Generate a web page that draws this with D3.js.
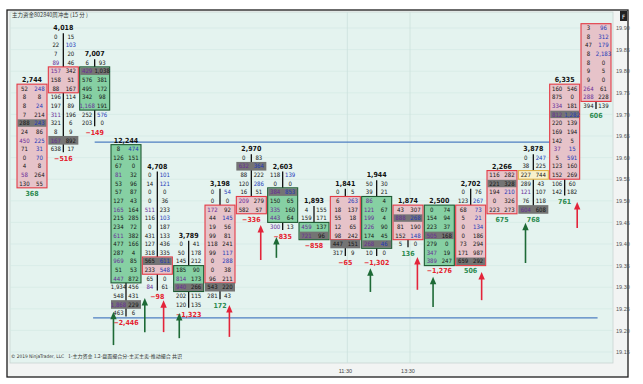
<!DOCTYPE html>
<html>
<head>
<meta charset="utf-8">
<script src="https://cdn.jsdelivr.net/npm/d3@7"></script>
<style>
body { margin: 0; background: #fff; }
svg text { font-family: "Liberation Sans Narrow", "DejaVu Sans Condensed", "Liberation Sans", sans-serif; }
</style>
</head>
<body>
<svg id="chart" width="643" height="384"></svg>
<script>

// footprint bars, one per 15 min slot (index = slot)
var totals = [2744, 4018, 7007, 12244, 4708, 3789, 3198, 2970, 2603, 1893, 1841, 1944, 1874, 2500, 2702, 2266, 3878, 6335, null];
var topPrices = [19.76, 19.88, 19.82, 19.62, 19.56, 19.40, 19.52, 19.60, 19.56, 19.48, 19.52, 19.54, 19.48, 19.48, 19.52, 19.56, 19.60, 19.76, 19.90];
var deltas = [368, -516, -149, -2446, -98, -1323, 172, -336, -835, -858, -65, -1302, 136, -1276, 506, 675, 768, 761, 606];

var bidVols = [
  [52, 8, 8, 7, 288, 24, 450, 71, 0, 4, 58, 130],
  [0, 22, 7, 89, 157, 158, 88, 196, 197, 311, 321, 8, 167, 638],
  [6, 429, 576, 495, 342, 1168, 252, 203],
  [8, 126, 67, 81, 53, 57, 127, 165, 215, 234, 611, 477, 287, 969, 51, 447, 1934, 548, 1868, 463],
  [0, 14, 0, 0, 511, 116, 0, 431, 127, 318, 565, 233, 65, 84],
  [0, 50, 145, 185, 814, 940, 202, 120],
  [0, 0, 172, 44, 19, 99, 118, 99, 0, 0, 96, 543, 281],
  [0, 632, 88, 120, 16, 209, 582],
  [118, 0, 384, 150, 335, 443, 300],
  [4, 159, 459, 721],
  [0, 6, 18, 55, 12, 98, 447, 317],
  [50, 39, 86, 121, 199, 226, 174, 268, 10],
  [43, 888, 81, 152, 5],
  [0, 154, 223, 505, 279, 347, 389],
  [0, 123, 68, 5, 0, 0, 73, 171, 659],
  [116, 221, 194, 0, 223],
  [0, 38, 227, 289, 121, 76, 604],
  [160, 875, 334, 812, 220, 169, 142, 37, 5, 123, 152, 106, 142],
  [3, 8, 47, 8, 8, 9, 9, 264, 288, 394]
];
var askVols = [
  [248, 8, 24, 214, 243, 86, 225, 31, 70, 8, 264, 55],
  [15, 103, 20, 46, 342, 51, 167, 114, 89, 196, 6, 9, 892, 17],
  [93, 1038, 381, 172, 98, 191, 576, 0],
  [474, 151, 0, 32, 96, 87, 43, 164, 285, 72, 382, 166, 4, 85, 53, 872, 456, 431, 229, 6],
  [101, 121, 0, 36, 233, 103, 187, 133, 436, 335, 611, 548, 0, 61],
  [41, 178, 212, 90, 173, 266, 115, 135],
  [54, 0, 92, 145, 56, 81, 241, 117, 288, 38, 211, 220, 43],
  [83, 364, 222, 286, 51, 279, 57],
  [139, 0, 853, 65, 160, 64, 13],
  [155, 171, 137, 96],
  [5, 263, 137, 18, 65, 242, 151, 9],
  [30, 21, 4, 67, 4, 90, 45, 46, 0],
  [307, 268, 190, 148, 0],
  [74, 94, 37, 168, 0, 19, 247],
  [76, 267, 73, 21, 134, 186, 294, 987, 292],
  [282, 328, 210, 326, 273],
  [247, 225, 744, 43, 107, 118, 608],
  [546, 0, 181, 1282, 139, 194, 5, 15, 591, 160, 269, 60, 182],
  [96, 312, 179, 2183, 0, 5, 0, 61, 228, 139]
];

// body rows (first/last row index) and kind, plus the highlighted max volume row
var bodyStart = [0, 4, 1, 0, 10, 3, 2, 5, 2, 2, 1, 2, 0, 0, 2, 0, 2, 0, 0];
var bodyEnd   = [11, 6, 5, 15, 11, 5, 10, 6, 5, 3, 5, 7, 3, 6, 8, 4, 2, 10, 8];
var bodyKind  = ["dn", "dn", "up", "up", "dn", "up", "dn", "dn", "up", "up", "dn", "up", "dn", "up", "dn", "dn", "flat", "dn", "dn"];
var maxRow    = [4, 12, 1, 18, 10, 5, 11, 1, 2, 3, 6, 7, 1, 3, 8, 1, 6, 3, -1];

// signal arrows (slot position, head price, tail price)
var arrowSlot = [2.6, 3.6, 4.2, 4.7, 6.3, 7.3, 7.8, 10.8, 12.3, 12.8, 14.35, 15.75, 17.4];
var arrowHead = [19.243, 19.275, 19.270, 19.240, 19.259, 19.444, 19.416, 19.344, 19.370, 19.324, 19.335, 19.449, 19.497];
var arrowTail = [19.166, 19.196, 19.196, 19.182, 19.185, 19.363, 19.368, 19.289, 19.294, 19.254, 19.270, 19.356, 19.437];
var arrowSide = ["buy", "buy", "sell", "buy", "sell", "sell", "buy", "buy", "sell", "buy", "sell", "buy", "sell"];

// horizontal levels
var levelPrice = [19.636, 19.229];
var levelFrom = [2.0, 1.95];
var levelTo = [16.8, 18.05];

var timeLabels = ["11:30", "13:30"];
var timeSlots = [10, 12];
var priceTicks = d3.range(0, 16).map(function(i) { return +(19.15 + i * 0.05).toFixed(2); });

var tickSize = 0.02;

var svg = d3.select("#chart");
var x = d3.scaleLinear().domain([0, 18]).range([32, 596]);
var y = d3.scaleLinear().domain([19.15, 19.90]).range([352, 28]);
var rowH = y(19.50) - y(19.52);
var halfW = 15;

// frame + plot panel
svg.append("rect").attr("x", 0).attr("y", 0).attr("width", 643).attr("height", 384).attr("fill", "#fff");
svg.append("rect").attr("x", 7).attr("y", 10).attr("width", 621).attr("height", 367)
  .attr("fill", "#f2f4f3").attr("stroke", "#1e1e1e").attr("stroke-width", 1.3);
svg.append("rect").attr("x", 10).attr("y", 12).attr("width", 603).attr("height", 351)
  .attr("fill", "#e4f3ef").attr("stroke", "#c8d4d1").attr("stroke-width", 0.8);

// grid
svg.append("g").selectAll("line").data(priceTicks).enter().append("line")
  .attr("x1", 10).attr("x2", 613)
  .attr("y1", function(d) { return y(d); }).attr("y2", function(d) { return y(d); })
  .attr("stroke", "#d2e8e3").attr("stroke-width", 0.6);
svg.append("g").selectAll("line").data(timeSlots).enter().append("line")
  .attr("x1", function(d) { return x(d) + 2; }).attr("x2", function(d) { return x(d) + 2; })
  .attr("y1", 12).attr("y2", 363)
  .attr("stroke", "#cbe1dc").attr("stroke-width", 0.8);

// price axis
var yAxis = svg.append("g").attr("transform", "translate(615,0)")
  .call(d3.axisRight(y).tickValues(priceTicks).tickSize(0).tickPadding(1).tickFormat(d3.format(".2f")));
yAxis.select(".domain").remove();
yAxis.selectAll("text").attr("font-size", 5.5).attr("fill", "#555")
  .style("font-family", "'Liberation Sans', sans-serif");

// time labels
svg.append("g").selectAll("text").data(timeLabels).enter().append("text")
  .attr("x", function(d, i) { return x(timeSlots[i]); })
  .attr("y", 373)
  .attr("text-anchor", "middle").attr("font-size", 5.5).attr("fill", "#444")
  .style("font-family", "'Liberation Sans', sans-serif")
  .text(function(d) { return d; });

// blue levels
svg.append("g").selectAll("line").data(levelPrice).enter().append("line")
  .attr("x1", function(d, i) { return x(levelFrom[i]); })
  .attr("x2", function(d, i) { return x(levelTo[i]); })
  .attr("y1", function(d) { return y(d); }).attr("y2", function(d) { return y(d); })
  .attr("stroke", "#4f7fc2").attr("stroke-width", 1.2);

function fmt(v) { return d3.format(",")(v); }

function bodyFill(k) { return k == "up" ? "#86d0a3" : (k == "flat" ? "#f7f1cc" : "#e6c3c9"); }
function bodyStroke(k) { return k == "up" ? "#1f5a33" : (k == "flat" ? "#e0b24a" : "#e33b45"); }

function askColor(b, r) {
  var a = askVols[b][r];
  if (r + 1 < bidVols[b].length && a >= 10 && a >= 2.6 * bidVols[b][r + 1]) return "#2139b8";
  return "#151515";
}
function bidColor(b, r) {
  var v = bidVols[b][r];
  if (r > 0 && v >= 10 && v >= 2.6 * askVols[b][r - 1]) return "#672c98";
  return "#151515";
}

// draw footprint bars
totals.forEach(function(total, b) {
  var g = svg.append("g");
  var cx = x(b);
  var top = topPrices[b];
  var n = bidVols[b].length;
  var rowY = function(r) { return y(top - r * tickSize); };

  // wick
  g.append("line").attr("x1", cx).attr("x2", cx)
    .attr("y1", rowY(0) - rowH / 2 + 1).attr("y2", rowY(n - 1) + rowH / 2 - 1)
    .attr("stroke", "#111").attr("stroke-width", 1.3);

  // body
  g.append("rect")
    .attr("x", cx - halfW).attr("y", rowY(bodyStart[b]) - rowH / 2)
    .attr("width", halfW * 2).attr("height", (bodyEnd[b] - bodyStart[b] + 1) * rowH)
    .attr("fill", bodyFill(bodyKind[b])).attr("stroke", bodyStroke(bodyKind[b])).attr("stroke-width", 1.1);

  // max volume row
  if (maxRow[b] >= 0) {
    var inside = maxRow[b] >= bodyStart[b] && maxRow[b] <= bodyEnd[b];
    var ins = inside ? 0.6 : 0;
    g.append("rect")
      .attr("x", cx - halfW + ins).attr("y", rowY(maxRow[b]) - rowH / 2 + ins)
      .attr("width", halfW * 2 - ins * 2).attr("height", rowH - ins * 2)
      .attr("fill", "#747474");
  }

  var rows = d3.range(n);
  g.selectAll("text.bid").data(rows).enter().append("text")
    .attr("x", cx - 7.5).attr("y", function(r) { return rowY(r) + 2.2; })
    .attr("text-anchor", "middle").attr("font-size", 6)
    .attr("fill", function(r) { return bidColor(b, r); })
    .text(function(r) { return fmt(bidVols[b][r]); });
  g.selectAll("text.ask").data(rows).enter().append("text")
    .attr("x", cx + 7.5).attr("y", function(r) { return rowY(r) + 2.2; })
    .attr("text-anchor", "middle").attr("font-size", 6)
    .attr("fill", function(r) { return askColor(b, r); })
    .text(function(r) { return fmt(askVols[b][r]); });

  if (total != null) {
    g.append("text").attr("x", cx).attr("y", rowY(0) - rowH / 2 - 2)
      .attr("text-anchor", "middle").attr("font-size", 7).attr("font-weight", "bold").attr("fill", "#111")
      .text(fmt(total));
  }

  g.append("text").attr("x", cx).attr("y", rowY(n - 1) + rowH + 3.5)
    .attr("text-anchor", "middle").attr("font-size", 7).attr("font-weight", "bold")
    .attr("fill", deltas[b] < 0 ? "#e5222e" : "#2b8a4f")
    .text(fmt(deltas[b]));
});

// arrows
var arrows = svg.append("g").selectAll("g").data(arrowSlot).enter().append("g");
arrows.append("line")
  .attr("x1", function(d) { return x(d); }).attr("x2", function(d) { return x(d); })
  .attr("y1", function(d, i) { return y(arrowTail[i]); })
  .attr("y2", function(d, i) { return y(arrowHead[i]) + 5; })
  .attr("stroke", function(d, i) { return arrowSide[i] == "buy" ? "#1d6a36" : "#e3243a"; })
  .attr("stroke-width", 1.6);
arrows.append("path")
  .attr("d", function(d, i) {
    var ax = x(d), ay = y(arrowHead[i]);
    return "M" + ax + "," + ay + "L" + (ax - 3.2) + "," + (ay + 7.5) + "L" + (ax + 3.2) + "," + (ay + 7.5) + "Z";
  })
  .attr("fill", function(d, i) { return arrowSide[i] == "buy" ? "#1d6a36" : "#e3243a"; });

// titles
svg.append("text").attr("x", 12).attr("y", 17).attr("font-size", 5.5).attr("fill", "#333")
  .style("font-family", "'Noto Sans CJK SC', sans-serif")
  .text("主力资金802840周冲击 (15 分 )");
svg.append("text").attr("x", 11).attr("y", 358).attr("font-size", 4.8).attr("fill", "#333")
  .style("font-family", "'Liberation Sans Narrow', 'DejaVu Sans Condensed', sans-serif")
  .text("© 2019 NinjaTrader, LLC");
svg.append("text").attr("x", 68).attr("y", 358).attr("font-size", 5).attr("fill", "#333")
  .style("font-family", "'Noto Sans CJK SC', sans-serif")
  .text("1-主力资金 1.2-盘面撮合分-主买主卖-推动撮合 共识");

svg.append("rect").attr("x", 620).attr("y", 11).attr("width", 7).attr("height", 10).attr("fill", "#222");
svg.append("text").attr("x", 623.5).attr("y", 19).attr("text-anchor", "middle").attr("font-size", 6).attr("fill", "#fff").text("F");

</script>
</body>
</html>
